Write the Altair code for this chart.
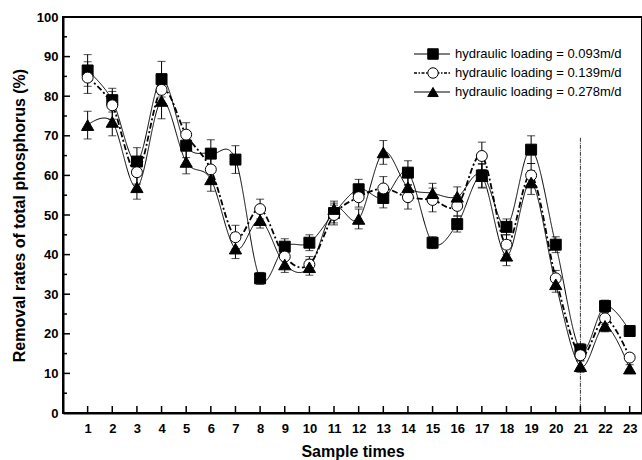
import altair as alt
import pandas as pd

# ---- data ----
samples = list(range(1, 24))
series_names = ["hydraulic loading  = 0.093m/d",
                "hydraulic loading  = 0.139m/d",
                "hydraulic loading  = 0.278m/d"]

removal_093 = [86.5, 79.0, 63.5, 84.3, 67.5, 65.5, 64.0, 34.0, 42.0, 43.0, 50.5, 56.5,
               54.3, 60.7, 43.0, 47.7, 60.0, 47.0, 66.5, 42.5, 16.0, 27.0, 20.7]
removal_139 = [84.7, 77.7, 60.8, 81.6, 70.3, 61.5, 44.4, 51.5, 39.5, 37.5, 50.0, 54.5,
               56.7, 54.5, 53.8, 52.3, 64.9, 42.5, 60.0, 34.0, 14.6, 23.9, 14.0]
removal_278 = [72.7, 73.5, 57.0, 78.8, 63.4, 59.0, 41.5, 48.7, 37.5, 36.8, 51.5, 49.0,
               65.8, 57.0, 55.5, 54.6, 59.8, 39.7, 58.2, 32.5, 11.8, 22.0, 11.2]

err_093 = [4.0, 3.0, 3.5, 4.5, 3.0, 3.5, 3.5, 1.5, 2.0, 2.0, 2.5, 2.5,
           2.5, 3.0, 1.5, 2.0, 3.0, 2.0, 3.5, 2.0, 1.5, 1.5, 1.0]
err_139 = [4.0, 3.5, 3.0, 4.0, 3.0, 3.0, 3.0, 2.5, 2.5, 2.0, 2.5, 2.5,
           3.0, 3.0, 3.0, 2.5, 3.5, 2.5, 3.0, 2.0, 1.5, 1.5, 1.0]
err_278 = [3.5, 3.5, 3.0, 4.5, 3.0, 3.0, 2.5, 2.0, 2.0, 2.0, 2.0, 2.5,
           3.0, 3.0, 2.5, 2.5, 3.0, 2.5, 3.0, 2.0, 1.5, 1.5, 1.0]

x_ticks = list(range(1, 24))
y_major = list(range(0, 101, 10))
y_minor = list(range(5, 100, 10))
marker_line = [21]          # vertical reference line at sample 21
marker_line_top = [69.5]

W, H = 579, 396
FONT = "Liberation Sans"

rows = []
for name, vals, errs in zip(series_names, [removal_093, removal_139, removal_278],
                            [err_093, err_139, err_278]):
    for s, v, e in zip(samples, vals, errs):
        rows.append({"series": name, "x": s, "y": v, "lo": v - e, "hi": v + e})
df = pd.DataFrame(rows)

xscale = alt.Scale(domain=[0, 23.5], nice=False, zero=False)
yscale = alt.Scale(domain=[0, 100], nice=False, zero=True)
xaxis = alt.Axis(values=x_ticks, title="Sample times", ticks=False, grid=False,
                 labelFont=FONT, labelFontWeight="bold", labelFontSize=13, labelPadding=9,
                 titleFont=FONT, titleFontWeight="bold", titleFontSize=16, titlePadding=8,
                 domainColor="black", domainWidth=2, labelColor="black", titleColor="black")
yaxis = alt.Axis(values=y_major, title="Removal rates of total phosphorus (%)", ticks=False,
                 grid=False, labelFont=FONT, labelFontWeight="bold", labelFontSize=13,
                 labelPadding=5, titleFont=FONT, titleFontWeight="bold", titleFontSize=16,
                 titlePadding=9, domainColor="black", domainWidth=2, labelColor="black",
                 titleColor="black")


def X(f):
    return alt.X(f, type="quantitative", scale=xscale, axis=xaxis)


def Y(f):
    return alt.Y(f, type="quantitative", scale=yscale, axis=yaxis)


dom = series_names
base = alt.Chart(df)

lines = base.mark_line(interpolate="cardinal", tension=0, color="black").encode(
    x=X("x"), y=Y("y"), detail="series:N",
    strokeDash=alt.StrokeDash("series:N", scale=alt.Scale(type="ordinal", domain=dom, range=[[1, 0], [6, 2.5, 2, 2.5], [1, 0]]), legend=None),
    strokeWidth=alt.StrokeWidth("series:N", scale=alt.Scale(type="ordinal", domain=dom, range=[1, 1.8, 1]), legend=None),
)

bars = base.mark_rule(color="black", strokeWidth=1).encode(x=X("x"), y=Y("lo"), y2="hi")
cap_hi = base.mark_tick(color="black", orient="horizontal", size=8, thickness=1).encode(x=X("x"), y=Y("hi"))
cap_lo = base.mark_tick(color="black", orient="horizontal", size=8, thickness=1).encode(x=X("x"), y=Y("lo"))

points = base.mark_point(filled=True, stroke="black", strokeWidth=1, opacity=1).encode(
    x=X("x"), y=Y("y"),
    shape=alt.Shape("series:N", scale=alt.Scale(domain=dom, range=["square", "circle", "triangle-up"]), legend=None),
    fill=alt.Fill("series:N", scale=alt.Scale(domain=dom, range=["black", "white", "black"]), legend=None),
    size=alt.Size("series:N", scale=alt.Scale(type="ordinal", domain=dom, range=[120, 120, 150]), legend=None),
)

vline = alt.Chart(pd.DataFrame({"x": marker_line, "top": marker_line_top})).mark_rule(
    color="#333333", strokeWidth=1, strokeDash=[4, 1, 1, 1]
).encode(x=X("x"), y=Y("top"), y2=alt.value(H))

xt = alt.Chart(pd.DataFrame({"t": x_ticks})).mark_rule(color="black", strokeWidth=1.5).encode(
    x=X("t"), y=alt.value(H), y2=alt.value(H - 7))
ytM = alt.Chart(pd.DataFrame({"t": y_major})).mark_rule(color="black", strokeWidth=1.5).encode(
    y=Y("t"), x=alt.value(0), x2=alt.value(7))
ytm = alt.Chart(pd.DataFrame({"t": y_minor})).mark_rule(color="black", strokeWidth=1.5).encode(
    y=Y("t"), x=alt.value(0), x2=alt.value(4))

# ---- manual legend ----
leg_rows = [37, 56, 75]
leg_dash = [[1, 0], [3, 1.5, 1.5, 1.5], [1, 0]]
leg_width = [1, 1.5, 1]
leg_shape = ["square", "circle", "triangle-up"]
leg_fill = ["black", "white", "black"]
legend_layers = []
for name, yy, dsh, sw, shp, fl in zip(series_names, leg_rows, leg_dash, leg_width, leg_shape, leg_fill):
    ld = pd.DataFrame({"label": [name]})
    legend_layers.append(alt.Chart(ld).mark_rule(color="black", strokeWidth=sw, strokeDash=dsh).encode(
        x=alt.value(351), x2=alt.value(387), y=alt.value(yy)))
    legend_layers.append(alt.Chart(ld).mark_point(shape=shp, filled=True, fill=fl, stroke="black",
                                                 strokeWidth=1, opacity=1, size=110).encode(
        x=alt.value(370), y=alt.value(yy)))
    legend_layers.append(alt.Chart(ld).mark_text(align="left", baseline="middle", font=FONT,
                                                fontSize=13, color="black").encode(
        x=alt.value(392), y=alt.value(yy), text="label:N"))

chart = alt.layer(vline, lines, bars, cap_hi, cap_lo, points, xt, ytM, ytm, *legend_layers).properties(
    width=W, height=H,
    autosize=alt.AutoSizeParams(type="none"),
    padding={"left": 63, "top": 17, "right": 0, "bottom": 47},
    background="white",
).configure_view(stroke="black", strokeWidth=2)

chart.save("out.html", embed_options={"renderer": "svg", "actions": False})
